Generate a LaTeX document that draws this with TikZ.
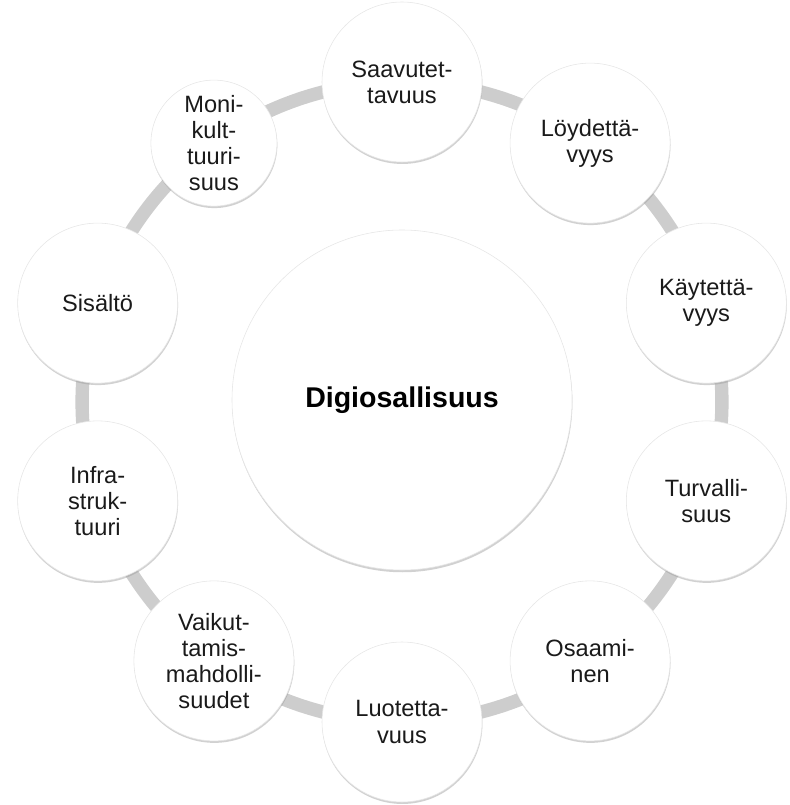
\documentclass[tikz,border=0pt]{standalone}
\usepackage{fontspec}
\setmainfont{Liberation Sans}
\usepackage{tikz}
\usetikzlibrary{shapes.geometric, positioning, backgrounds, shadows}
\usepackage{xcolor}
\definecolor{ringgray}{HTML}{CDCDCD}
\definecolor{edgegray}{HTML}{E6E6E6}
\definecolor{shadowgray}{HTML}{9A9A9A}
\definecolor{textblack}{HTML}{1A1A1A}
\tikzset{
  petal/.style={
    circle, draw=edgegray, fill=white, line width=0.4pt,
    minimum size=#1, inner sep=0pt, align=center, text=textblack,
    font=\fontsize{16.8}{18.6}\selectfont,
    drop shadow={shadow xshift=0.3pt, shadow yshift=-1.4pt,
                 fill=shadowgray, opacity=0.45}
  },
  petal/.default=4cm,
  hub/.style={
    circle, draw=edgegray, fill=white, line width=0.4pt,
    minimum size=8.5cm, inner sep=0pt, align=center, text=black,
    font=\fontsize{20.3}{23}\selectfont\bfseries,
    drop shadow={shadow xshift=0.3pt, shadow yshift=-1.6pt,
                 fill=shadowgray, opacity=0.45}
  },
  ring/.style={draw=ringgray, line width=9.5pt, bend left=18, looseness=0.87}
}

\begin{document}
\begin{tikzpicture}
    \useasboundingbox (-10.05,-10.075) rectangle (9.7,10.05);

    % Keskus
    \node[hub] (digi) at (0,0.05) {Digiosallisuus};

    % Osa-alueet
    \node[petal] (saav) at (90:8)  {Saavutet-\\tavuus};
    \node[petal] (loyd) at (54:8)  {Löydettä-\\vyys};
    \node[petal] (kayt) at (18:8)  {Käytettä-\\vyys};
    \node[petal] (turv) at (-18:8) {Turvalli-\\suus};
    \node[petal] (osaa) at (-54:8) {Osaami-\\nen};
    \node[petal] (luot) at (-90:8) {Luotetta-\\vuus};
    \node[petal] (vaik) at (-126:8)
      {Vaikut-\\tamis-\\mahdolli-\\suudet};
    \node[petal] (infr) at (-162:8) {Infra-\\struk-\\tuuri};
    \node[petal] (sisa) at (162:8)  {Sisältö};
    \node[petal=3.15cm] (moni) at (126:8)
      {Moni-\\kult-\\tuuri-\\suus};

    % Kehä
    \begin{scope}[on background layer]
      \draw[ring] (saav.center) to (loyd.center);
      \draw[ring] (loyd.center) to (kayt.center);
      \draw[ring] (kayt.center) to (turv.center);
      \draw[ring] (turv.center) to (osaa.center);
      \draw[ring] (osaa.center) to (luot.center);
      \draw[ring] (luot.center) to (vaik.center);
      \draw[ring] (vaik.center) to (infr.center);
      \draw[ring] (infr.center) to (sisa.center);
      \draw[ring] (sisa.center) to (moni.center);
      \draw[ring] (moni.center) to (saav.center);
    \end{scope}
  \end{tikzpicture}
\end{document}
